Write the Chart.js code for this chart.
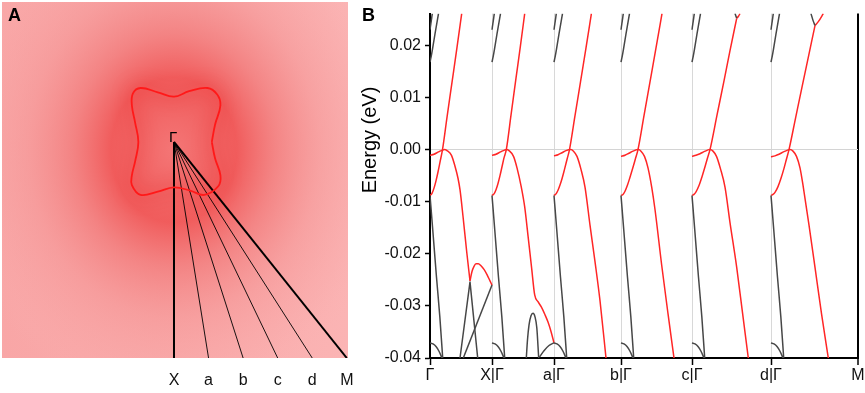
<!DOCTYPE html>
<html>
<head>
<meta charset="utf-8">
<script src="https://cdn.jsdelivr.net/npm/chart.js@4.4.1/dist/chart.umd.min.js"></script>
<style>
  html, body { margin: 0; padding: 0; background: #fff; }
  #wrap { position: relative; width: 865px; height: 393px; overflow: hidden; font-family: "Liberation Sans", Arial, sans-serif; }
  canvas { position: absolute; top: 0; }
  #ca { left: 0; }
  #cb { left: 355px; }
  .lbl { position: absolute; color: #000; white-space: nowrap; }
  .panel { font-weight: bold; font-size: 18px; line-height: 18px; }
  #ylab { font-size: 20px; line-height: 20px; width: 200px; text-align: center; left: 269px; top: 130px; transform: rotate(-90deg); }
  #gam { font-size: 15px; line-height: 15px; left: 169px; top: 129px; }
</style>
</head>
<body>
<div id="wrap">
  <canvas id="ca" width="355" height="393"></canvas>
  <canvas id="cb" width="510" height="393"></canvas>
  <div class="lbl panel" style="left:8px;top:6px;">A</div>
  <div class="lbl panel" style="left:362px;top:6px;">B</div>
  <div class="lbl" id="gam">Γ</div>
  <div class="lbl" id="ylab">Energy (eV)</div>
</div>
<script>
const FONT = '"Liberation Sans", Arial, sans-serif';

// ---- Panel A : Fermi surface + cuts (k in units of Γ-X) ----
const cutNames = ['X', 'a', 'b', 'c', 'd', 'M'];
const cutKx = [0, 0.16, 0.32, 0.48, 0.64, 0.80];
const cutKy = [-1, -1, -1, -1, -1, -1];
const fermiKx = [0.175, 0.19, 0.215, 0.20, 0.155, 0.07, 0.00, -0.075, -0.155, -0.19, -0.195, -0.18, -0.165,
                 -0.18, -0.195, -0.195, -0.155, -0.075, 0.00, 0.075, 0.14, 0.205, 0.215, 0.19, 0.175];
const fermiKy = [0.00, 0.08, 0.17, 0.22, 0.25, 0.235, 0.21, 0.23, 0.25, 0.225, 0.17, 0.09, 0.00,
                 -0.09, -0.155, -0.20, -0.245, -0.23, -0.21, -0.225, -0.245, -0.205, -0.155, -0.075, 0.00];

// ---- Panel B : bands along Γ-X, Γ-a, ... Γ-M ----
const pathTicks = [0, 62, 124, 191, 262, 341, 428];
const pathLabels = ['Γ', 'X|Γ', 'a|Γ', 'b|Γ', 'c|Γ', 'd|Γ', 'M'];
const energyTicks = [-0.04, -0.03, -0.02, -0.01, 0, 0.01, 0.02];

// red hole-like band (peak at E_F), k relative to each Γ
const holeBand = [
  [[0,-0.0011],[4,-0.0009],[7,-0.0006],[10,-0.0003],[12.5,-0.0001],[14.5,0],[17,-0.0002],[21.5,-0.0011],[25,-0.0032],[28,-0.0055],[30,-0.0077],[33,-0.0128],[36.7,-0.0196],[40,-0.0252]],
  [[0,-0.0011],[4,-0.0009],[7,-0.0006],[10,-0.0003],[12.5,-0.0001],[14.5,0],[17,-0.0002],[21.5,-0.0013],[25,-0.0035],[29.3,-0.0072],[32.7,-0.011],[36,-0.0165],[39.5,-0.0225],[42.7,-0.0279],[46,-0.0292],[49.3,-0.0302],[53,-0.0317],[56,-0.0331],[59,-0.0349],[62,-0.0371]],
  [[0,-0.0012],[4,-0.001],[8,-0.0006],[12,-0.0002],[16.7,0],[19.5,-0.0003],[23,-0.0013],[27,-0.0038],[31,-0.0072],[36,-0.0145],[41,-0.0215],[46,-0.029],[52,-0.040]],
  [[0,-0.0013],[4,-0.0011],[8,-0.0007],[12,-0.0003],[17.3,0],[20,-0.0003],[23.5,-0.0013],[27,-0.0035],[30.7,-0.0072],[34,-0.0115],[40.7,-0.0222],[47,-0.0315],[53,-0.040]],
  [[0,-0.0013],[4,-0.0011],[8,-0.0008],[12,-0.0004],[18,0],[21,-0.0003],[24.5,-0.0013],[28.5,-0.0037],[33,-0.0072],[38,-0.014],[44.7,-0.0226],[50.5,-0.0313],[56.3,-0.040]],
  [[0,-0.0014],[4,-0.0012],[8,-0.0009],[13,-0.0004],[19,0],[22,-0.0003],[25.5,-0.0013],[29,-0.0035],[32.3,-0.0072],[38,-0.0145],[44,-0.0226],[50.5,-0.0315],[57.3,-0.040]]
];

// red electron-like band crossing E_F
const elecBand = [
  [[0,-0.0088],[2,-0.0084],[4,-0.0074],[6,-0.006],[8,-0.0043],[10,-0.0024],[12.5,0],[17,0.0062],[22,0.0129],[27,0.0196],[31.7,0.0261]],
  [[0,-0.0088],[2,-0.0085],[4,-0.0077],[6,-0.0065],[8,-0.005],[10,-0.0033],[12,-0.0016],[14.3,0],[19,0.0066],[24,0.0137],[28.5,0.02],[32.7,0.0261]],
  [[0,-0.0088],[2,-0.0085],[4,-0.0078],[6,-0.0068],[8,-0.0056],[10.5,-0.0038],[13,-0.0019],[15.5,0],[21,0.0065],[26.5,0.013],[32,0.0195],[37.4,0.0261]],
  [[0,-0.0088],[2,-0.0086],[4,-0.008],[6.5,-0.0068],[9,-0.0053],[12,-0.0034],[14.5,-0.0017],[17,0],[23,0.0065],[29,0.013],[35,0.0195],[41,0.0261]],
  [[0,-0.0088],[2,-0.0086],[4,-0.0081],[7,-0.0069],[10,-0.0052],[13,-0.0033],[15.5,-0.0016],[18,0],[25,0.0066],[32,0.0132],[38,0.019],[44.7,0.0252]],
  [[0,-0.0088],[2,-0.0086],[4,-0.0082],[7,-0.0071],[10,-0.0055],[13,-0.0036],[15.5,-0.0018],[18,0],[24.5,0.006],[31,0.012],[37.5,0.0179],[44,0.0238]]
];

// gray bands repeated at every Γ
const grayDrop = [[0,-0.0088],[3,-0.016],[6.5,-0.0245],[9.8,-0.032],[12.7,-0.040]];
const grayDome = [[0,-0.0371],[3,-0.0373],[6,-0.0378],[9,-0.0387],[12,-0.040]];
const grayTopA = [[0,0.023],[2.3,0.0261]];
const grayTopB = [[0,0.0168],[1,0.0177],[2.5,0.0193],[5,0.0222],[8.5,0.0261]];

// extra pieces: [segment, points]
const redExtra = [
  [0, [[40,-0.0252],[42,-0.0234],[44,-0.0224],[46,-0.0219],[48.3,-0.0219],[51,-0.0223],[54,-0.023],[57,-0.024],[60,-0.0252],[62,-0.026]]],
  [4, [[44.7,0.0252],[46.5,0.0256],[48,0.0261]]],
  [5, [[44,0.0238],[47.5,0.0246],[52.3,0.0261]]]
];
const grayExtra = [
  [0, [[30,-0.040],[40,-0.0254],[47.7,-0.040]], 'straight'],
  [0, [[33.3,-0.040],[62,-0.026]], 'straight'],
  [1, [[34.3,-0.040],[35.5,-0.0365],[37,-0.0337],[39,-0.0319],[41,-0.0314],[43,-0.0321],[44.8,-0.0342],[46.7,-0.040]], 'curve'],
  [1, [[47.5,-0.0398],[52,-0.0386],[57,-0.0376],[62,-0.0371]], 'curve'],
  [4, [[43,0.0261],[44.7,0.0252]], 'straight'],
  [5, [[40,0.0261],[42,0.0248],[44,0.0238]], 'curve']
];

const RED = '#ff2626';
const GRAY = '#474747';

// ---------- Panel A chart ----------
const heatmap = {
  id: 'heatmap',
  beforeDatasetsDraw(chart) {
    const { ctx, chartArea: a, scales: { x, y } } = chart;
    const gx = x.getPixelForValue(0), gy = y.getPixelForValue(0) + 8;
    ctx.save();
    ctx.beginPath();
    ctx.rect(a.left, a.top, a.width, a.height);
    ctx.clip();
    ctx.fillStyle = 'rgb(251,180,180)';
    ctx.fillRect(a.left, a.top, a.width, a.height);
    // slightly deeper tint on the left side
    const lg = ctx.createLinearGradient(a.left, 0, a.right, 0);
    lg.addColorStop(0, 'rgba(244,140,140,0.35)');
    lg.addColorStop(0.45, 'rgba(244,140,140,0.25)');
    lg.addColorStop(1, 'rgba(244,140,140,0)');
    ctx.fillStyle = lg;
    ctx.fillRect(a.left, a.top, a.width, a.height);
    // broad red haze round the Fermi surface
    ctx.translate(gx, gy);
    ctx.scale(1, 1.15);
    const rg = ctx.createRadialGradient(0, 0, 0, 0, 0, 225);
    rg.addColorStop(0, 'rgba(244,118,118,1)');
    rg.addColorStop(0.18, 'rgba(241,100,100,1)');
    rg.addColorStop(0.28, 'rgba(240,88,88,0.95)');
    rg.addColorStop(0.45, 'rgba(242,122,122,0.8)');
    rg.addColorStop(0.65, 'rgba(245,148,148,0.55)');
    rg.addColorStop(0.85, 'rgba(248,165,165,0.3)');
    rg.addColorStop(1, 'rgba(251,180,180,0)');
    ctx.fillStyle = rg;
    ctx.fillRect(-300, -300, 600, 600);
    ctx.restore();
  },
  beforeDatasetDraw(chart, args) {
    if (args.index === 0) {
      chart.ctx.save();
      chart.ctx.shadowColor = 'rgba(235,0,0,0.9)';
      chart.ctx.shadowBlur = 18;
    }
  },
  afterDatasetDraw(chart, args) {
    if (args.index === 0) chart.ctx.restore();
  }
};

const fermiPts = fermiKx.map((v, i) => ({ x: v, y: fermiKy[i] }));
const cutSets = cutNames.map((n, i) => ({
  label: 'Γ-' + n,
  data: [{ x: 0, y: 0 }, { x: cutKx[i], y: cutKy[i] }],
  borderColor: '#000',
  borderWidth: (n === 'X' || n === 'M') ? 2 : 0.9,
  tension: 0
}));

new Chart(document.getElementById('ca'), {
  type: 'scatter',
  data: {
    datasets: [
      { label: 'Fermi surface', data: fermiPts, borderColor: 'rgb(255,25,25)', borderWidth: 1.8, tension: 0.4 },
      ...cutSets
    ]
  },
  options: {
    responsive: false, animation: false, devicePixelRatio: 1,
    showLine: true,
    layout: { padding: { left: 2, top: 2, right: 7, bottom: 0 } },
    elements: { point: { radius: 0 }, line: { borderCapStyle: 'butt' } },
    plugins: { legend: { display: false }, tooltip: { enabled: false } },
    scales: {
      x: {
        type: 'linear', min: -0.7963, max: 0.8056,
        afterBuildTicks: s => { s.ticks = cutKx.map(v => ({ value: v })); },
        afterFit: s => { s.height = 35; s.paddingLeft = 0; s.paddingRight = 0; },
        grid: { display: false, drawTicks: false },
        border: { display: false },
        ticks: { autoSkip: false, maxRotation: 0, padding: 13, color: '#111', font: { size: 16, family: FONT },
                 callback: (v, i) => cutNames[i] }
      },
      y: { type: 'linear', display: false, min: -1.0, max: 0.6481 }
    }
  },
  plugins: [heatmap]
});

// ---------- Panel B chart ----------
const segStart = pathTicks.slice(0, 6);
const shift = (pts, s) => pts.map(([k, e]) => ({ x: segStart[s] + k, y: e }));
const curve = (data, color) => ({ data, borderColor: color, borderWidth: 1.5, cubicInterpolationMode: 'monotone' });
const straight = (data, color) => ({ data, borderColor: color, borderWidth: 1.5, tension: 0 });

const bandSets = [];
segStart.forEach((s, i) => {
  bandSets.push(curve(shift(grayDrop, i), GRAY));
  bandSets.push(curve(shift(grayDome, i), GRAY));
  bandSets.push(straight(shift(grayTopA, i), GRAY));
  bandSets.push(curve(shift(grayTopB, i), GRAY));
});
grayExtra.forEach(([i, pts, kind]) => {
  bandSets.push(kind === 'straight' ? straight(shift(pts, i), GRAY) : curve(shift(pts, i), GRAY));
});
segStart.forEach((s, i) => {
  bandSets.push(curve(shift(holeBand[i], i), RED));
  bandSets.push(curve(shift(elecBand[i], i), RED));
});
redExtra.forEach(([i, pts]) => bandSets.push(curve(shift(pts, i), RED)));

new Chart(document.getElementById('cb'), {
  type: 'scatter',
  data: { datasets: bandSets },
  options: {
    responsive: false, animation: false, devicePixelRatio: 1,
    showLine: true,
    clip: 0,
    layout: { padding: { left: 0, top: 0, right: 7, bottom: 0 } },
    elements: { point: { radius: 0 }, line: { borderJoinStyle: 'round' } },
    plugins: { legend: { display: false }, tooltip: { enabled: false } },
    scales: {
      x: {
        type: 'linear', min: 0, max: 428,
        afterBuildTicks: s => { s.ticks = pathTicks.map(v => ({ value: v })); },
        afterFit: s => { s.height = 35; s.paddingLeft = 0; s.paddingRight = 0; },
        grid: {
          drawOnChartArea: true,
          color: c => (c.tick && c.tick.value === 428) ? '#000' : (c.tick && c.tick.value === 0 ? 'rgba(0,0,0,0)' : '#d8d8d8'),
          lineWidth: c => (c.tick && c.tick.value === 428) ? 2 : 1,
          tickColor: '#000', tickLength: 7, tickWidth: 1.5
        },
        border: { display: true, color: '#000', width: 2 },
        ticks: { autoSkip: false, maxRotation: 0, padding: 1, color: '#111', font: { size: 16, family: FONT },
                 callback: (v, i) => pathLabels[i] }
      },
      y: {
        type: 'linear', min: -0.04, max: 0.0261,
        afterBuildTicks: s => { s.ticks = energyTicks.map(v => ({ value: v })); },
        afterFit: s => { s.width = 75; },
        grid: {
          drawOnChartArea: true,
          color: c => (c.tick && c.tick.value === 0) ? '#d4d4d4' : 'rgba(0,0,0,0)',
          tickColor: '#000', tickLength: 5, tickWidth: 1.5
        },
        border: { display: true, color: '#000', width: 2 },
        ticks: { padding: 4, color: '#111', font: { size: 16, family: FONT },
                 callback: v => v.toFixed(2) }
      }
    }
  }
});
</script>
</body>
</html>
